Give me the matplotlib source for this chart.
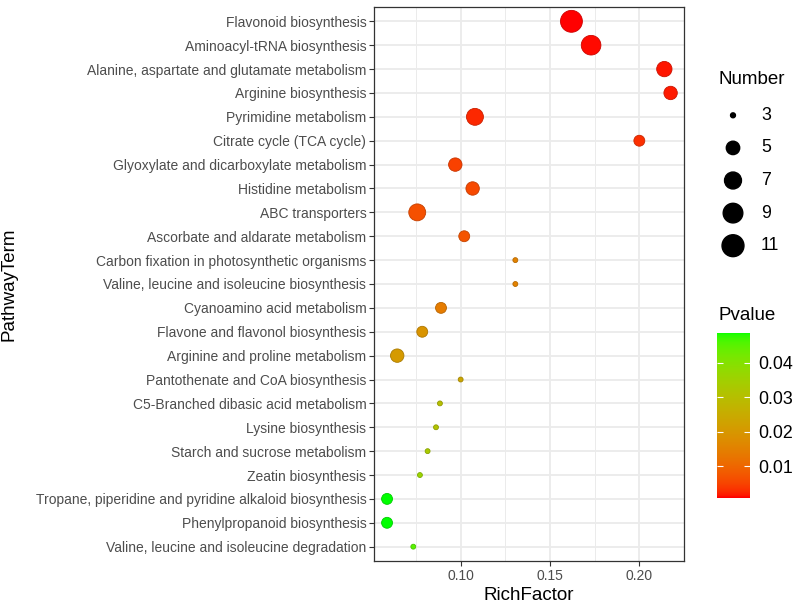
import numpy as np
import matplotlib
matplotlib.use('Agg')
import matplotlib.pyplot as plt
from matplotlib.colors import ListedColormap, Normalize

plt.rcParams['font.family'] = ['Liberation Sans', 'DejaVu Sans']

# data (top to bottom)
pathways = [
    'Flavonoid biosynthesis',
    'Aminoacyl-tRNA biosynthesis',
    'Alanine, aspartate and glutamate metabolism',
    'Arginine biosynthesis',
    'Pyrimidine metabolism',
    'Citrate cycle (TCA cycle)',
    'Glyoxylate and dicarboxylate metabolism',
    'Histidine metabolism',
    'ABC transporters',
    'Ascorbate and aldarate metabolism',
    'Carbon fixation in photosynthetic organisms',
    'Valine, leucine and isoleucine biosynthesis',
    'Cyanoamino acid metabolism',
    'Flavone and flavonol biosynthesis',
    'Arginine and proline metabolism',
    'Pantothenate and CoA biosynthesis',
    'C5-Branched dibasic acid metabolism',
    'Lysine biosynthesis',
    'Starch and sucrose metabolism',
    'Zeatin biosynthesis',
    'Tropane, piperidine and pyridine alkaloid biosynthesis',
    'Phenylpropanoid biosynthesis',
    'Valine, leucine and isoleucine degradation',
]
rich_factor = [0.162, 0.173, 0.214, 0.2175, 0.108, 0.200, 0.097, 0.1067, 0.0757, 0.102,
               0.1306, 0.1306, 0.089, 0.0785, 0.0645, 0.100, 0.0884, 0.0862, 0.0815, 0.0772,
               0.0588, 0.0588, 0.0735]
number = [11, 9, 6, 5, 7, 4, 5, 5, 7, 4,
          3, 3, 4, 4, 5, 3, 3, 3, 3, 3,
          4, 4, 3]
pvalue = [0.0007, 0.0010, 0.0013, 0.0015, 0.0022, 0.0028, 0.0045, 0.0055, 0.0065, 0.0070,
          0.0150, 0.0150, 0.0140, 0.0190, 0.0205, 0.0235, 0.0300, 0.0310, 0.0330, 0.0360,
          0.0487, 0.0487, 0.0450]
size_breaks = [3, 5, 7, 9, 11]
p_breaks = [0.01, 0.02, 0.03, 0.04]


# red -> green gradient interpolated in Lab space (like ggplot's scale_colour_gradient)
def rgb2lab(c):
    c = np.asarray(c, float)
    lin = np.where(c > 0.04045, ((c + 0.055) / 1.055) ** 2.4, c / 12.92)
    M = np.array([[0.4124, 0.3576, 0.1805], [0.2126, 0.7152, 0.0722], [0.0193, 0.1192, 0.9505]])
    xyz = M @ lin / np.array([0.95047, 1.0, 1.08883])
    f = np.where(xyz > 0.008856, np.cbrt(xyz), 7.787 * xyz + 16 / 116)
    return np.array([116 * f[1] - 16, 500 * (f[0] - f[1]), 200 * (f[1] - f[2])])


def lab2rgb(lab):
    L, a, b = lab
    fy = (L + 16) / 116
    fx = fy + a / 500
    fz = fy - b / 200
    f = np.array([fx, fy, fz])
    xyz = np.where(f ** 3 > 0.008856, f ** 3, (f - 16 / 116) / 7.787) * np.array([0.95047, 1.0, 1.08883])
    Mi = np.array([[3.2406, -1.5372, -0.4986], [-0.9689, 1.8758, 0.0415], [0.0557, -0.2040, 1.0570]])
    lin = Mi @ xyz
    c = np.where(lin > 0.0031308, 1.055 * np.clip(lin, 0, None) ** (1 / 2.4) - 0.055, 12.92 * lin)
    return np.clip(c, 0, 1)


lab_lo = rgb2lab([1, 0, 0])
lab_hi = rgb2lab([0, 1, 0])
cmap = ListedColormap([lab2rgb(lab_lo + t * (lab_hi - lab_lo)) for t in np.linspace(0, 1, 256)])
norm = Normalize(min(pvalue), max(pvalue))


def point_size(n):
    # ggplot area scale, range 1..6, drawn diameter in px -> scatter area in pt^2
    sz = 1 + 5 * np.sqrt((np.asarray(n, float) - min(number)) / (max(number) - min(number)))
    d_px = 3.4 * sz + 1.5
    return (d_px * 0.72) ** 2


fig = plt.figure(figsize=(8, 6.07), dpi=100)
ax = fig.add_axes([374 / 800, 1 - 561 / 607, 310 / 800, 554 / 607])

ypos = np.arange(len(pathways))
cols = cmap(norm(pvalue))
edge = cols.copy()
edge[:, :3] *= 0.8
ax.scatter(rich_factor, ypos, s=point_size(number), c=cols, edgecolors=edge, linewidths=0.6, zorder=3)

ax.set_xlim(0.0515, 0.225)
ax.set_ylim(len(pathways) - 0.4, -0.6)
ax.set_yticks(ypos)
ax.set_yticklabels(pathways)
ax.set_xticks([0.10, 0.15, 0.20])
ax.set_xticklabels(['0.10', '0.15', '0.20'])
ax.set_xticks([0.075, 0.125, 0.175], minor=True)
ax.grid(True, which='major', color='#EBEBEB', linewidth=1.3, zorder=0)
ax.grid(True, which='minor', axis='x', color='#EBEBEB', linewidth=0.7, zorder=0)
ax.set_axisbelow(True)
ax.tick_params(axis='both', which='major', length=3.5, width=0.8, color='#333333',
               labelsize=10, labelcolor='#4D4D4D', pad=2)
ax.tick_params(axis='x', which='minor', length=0)
for sp in ax.spines.values():
    sp.set_color('#333333')
    sp.set_linewidth(0.9)

ax.set_xlabel('RichFactor', fontsize=13.5, labelpad=3)
ax.set_ylabel('PathwayTerm', fontsize=13.5)
ax.yaxis.set_label_coords((18 - 374) / 310, 0.5)

# size legend
fig.text(718 / 800, 1 - 80 / 607, 'Number', fontsize=13.5, va='center', ha='left')
lax = fig.add_axes([713 / 800, 1 - 262 / 607, 40 / 800, 163 / 607])
lax.set_xlim(-1, 1)
lax.set_ylim(len(size_breaks) - 0.5, -0.5)
lax.axis('off')
lax.scatter([0] * len(size_breaks), range(len(size_breaks)), s=point_size(size_breaks), c='black')
for i, b in enumerate(size_breaks):
    lax.text(1.4, i, str(b), fontsize=12.8, va='center', ha='left', clip_on=False)

# colour bar
fig.text(718 / 800, 1 - 316 / 607, 'Pvalue', fontsize=13.5, va='center', ha='left')
cax = fig.add_axes([717 / 800, 1 - 498 / 607, 33 / 800, 165 / 607])
grad = np.linspace(min(pvalue), max(pvalue), 300).reshape(-1, 1)
cax.imshow(grad, cmap=cmap, norm=norm, aspect='auto', origin='lower',
           extent=[0, 1, min(pvalue), max(pvalue)])
cax.set_xticks([])
cax.yaxis.tick_right()
cax.set_yticks(p_breaks)
cax.set_yticklabels([f'{p:.2f}' for p in p_breaks])
cax.tick_params(axis='y', direction='in', left=True, right=True, length=4.5, width=0.8,
                color='white', labelsize=12.8, pad=6)
for sp in cax.spines.values():
    sp.set_visible(False)

fig.savefig('out.png', dpi=100)
